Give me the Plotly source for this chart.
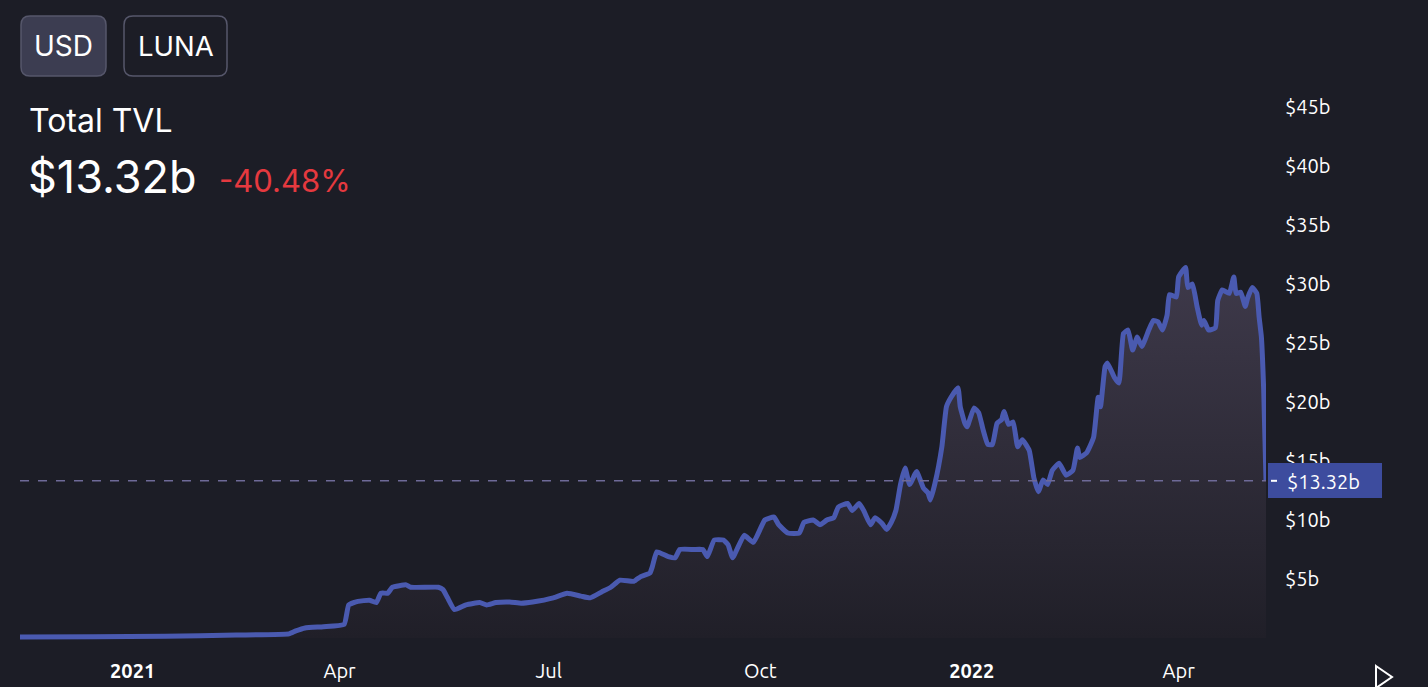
import plotly.graph_objects as go

# ---- data ----
dates = [
    "2020-11-13", "2020-12-15", "2021-01-15", "2021-02-15", "2021-03-10", "2021-03-13",
    "2021-03-17", "2021-03-25", "2021-04-03", "2021-04-05", "2021-04-09", "2021-04-14",
    "2021-04-17", "2021-04-19", "2021-04-22", "2021-04-24", "2021-04-30", "2021-05-02",
    "2021-05-14", "2021-05-16", "2021-05-18", "2021-05-21", "2021-05-26", "2021-06-01",
    "2021-06-04", "2021-06-08", "2021-06-14", "2021-06-19", "2021-06-24", "2021-07-03",
    "2021-07-09", "2021-07-15", "2021-07-19", "2021-07-24", "2021-07-28", "2021-08-01",
    "2021-08-07", "2021-08-10", "2021-08-14", "2021-08-15", "2021-08-17", "2021-08-22",
    "2021-08-25", "2021-08-27", "2021-09-02", "2021-09-06", "2021-09-08", "2021-09-11",
    "2021-09-15", "2021-09-17", "2021-09-19", "2021-09-24", "2021-09-28", "2021-10-03",
    "2021-10-07", "2021-10-09", "2021-10-13", "2021-10-18", "2021-10-20", "2021-10-24",
    "2021-10-27", "2021-10-30", "2021-11-02", "2021-11-04", "2021-11-08", "2021-11-10",
    "2021-11-13", "2021-11-15", "2021-11-18", "2021-11-20", "2021-11-23", "2021-11-25",
    "2021-11-27", "2021-11-29", "2021-12-01", "2021-12-03", "2021-12-05", "2021-12-08",
    "2021-12-11", "2021-12-13", "2021-12-14", "2021-12-16", "2021-12-19", "2021-12-21",
    "2021-12-23", "2021-12-26", "2021-12-27", "2021-12-29", "2021-12-30", "2022-01-02",
    "2022-01-04", "2022-01-06", "2022-01-08", "2022-01-10", "2022-01-12", "2022-01-14",
    "2022-01-15", "2022-01-17", "2022-01-19", "2022-01-21", "2022-01-23", "2022-01-26",
    "2022-01-28", "2022-01-30", "2022-02-01", "2022-02-03", "2022-02-05", "2022-02-08",
    "2022-02-11", "2022-02-14", "2022-02-16", "2022-02-17", "2022-02-20", "2022-02-23",
    "2022-02-25", "2022-02-26", "2022-02-28", "2022-03-01", "2022-03-04", "2022-03-06",
    "2022-03-08", "2022-03-10", "2022-03-12", "2022-03-14", "2022-03-16", "2022-03-19",
    "2022-03-21", "2022-03-23", "2022-03-25", "2022-03-27", "2022-03-28", "2022-03-31",
    "2022-04-01", "2022-04-04", "2022-04-05", "2022-04-07", "2022-04-09", "2022-04-11",
    "2022-04-12", "2022-04-14", "2022-04-17", "2022-04-18", "2022-04-20", "2022-04-23",
    "2022-04-25", "2022-04-26", "2022-04-28", "2022-04-30", "2022-05-01", "2022-05-03",
    "2022-05-05", "2022-05-06", "2022-05-07", "2022-05-08", "2022-05-09",
]
tvl_billions = [
    0.08, 0.10, 0.15, 0.25, 0.35, 0.60,
    0.85, 0.95, 1.15, 2.80, 3.10, 3.20,
    3.00, 3.80, 3.80, 4.30, 4.50, 4.30,
    4.30, 4.10, 3.40, 2.40, 2.80, 3.00,
    2.80, 3.00, 3.05, 2.95, 3.05, 3.40,
    3.80, 3.55, 3.40, 3.90, 4.30, 4.90,
    4.80, 5.20, 5.50, 6.00, 7.30, 6.90,
    6.80, 7.50, 7.50, 7.50, 6.90, 8.30,
    8.30, 7.90, 6.80, 8.70, 8.10, 10.00,
    10.25, 9.60, 8.90, 8.90, 9.80, 10.00,
    9.60, 10.00, 10.20, 11.10, 11.40, 10.80,
    11.40, 10.80, 9.60, 10.20, 9.70, 9.20,
    9.80, 10.80, 13.00, 14.40, 13.00, 14.10,
    12.70, 12.30, 11.70, 13.10, 16.20, 19.60,
    20.40, 21.20, 19.60, 18.20, 17.90, 19.50,
    19.10, 17.60, 16.40, 16.40, 18.20, 18.50,
    19.20, 18.10, 18.30, 16.20, 16.80, 15.90,
    13.60, 12.40, 13.40, 13.00, 14.20, 14.80,
    13.80, 14.20, 16.10, 15.30, 15.70, 17.00,
    20.40, 19.60, 23.00, 23.30, 22.10, 21.60,
    25.80, 26.10, 24.40, 25.50, 24.70, 26.10,
    26.90, 26.80, 26.10, 27.40, 29.10, 28.90,
    30.60, 31.40, 29.70, 30.00, 28.10, 26.50,
    26.90, 26.10, 26.30, 28.60, 29.50, 29.20,
    30.60, 29.20, 29.30, 28.10, 28.80, 29.70,
    29.20, 27.20, 25.50, 21.00, 13.32,
]
x_tick_vals = ["2021-01-01", "2021-04-01", "2021-07-01", "2021-10-01", "2022-01-01", "2022-04-01"]
x_tick_text = ["<b>2021</b>", "Apr", "Jul", "Oct", "<b>2022</b>", "Apr"]
y_tick_vals = [5, 10, 15, 20, 25, 30, 35, 40, 45]
y_tick_text = ["$5b", "$10b", "$15b", "$20b", "$25b", "$30b", "$35b", "$40b", "$45b"]
current_value = 13.32
current_label = "$13.32b"
change_label = "-40.48%"

# ---- layout geometry ----
W_FIG, H_FIG = 1428, 687
ML, MR, MT, MB = 20, 162, 80, 39
PW = W_FIG - ML - MR
PH = H_FIG - MT - MB
BG = "#1c1d26"
TICK_FONT = "Ubuntu, 'DejaVu Sans Condensed', 'Liberation Sans Narrow', 'Open Sans', sans-serif"
UI_FONT = "Inter, 'Noto Sans', sans-serif"


def X(px):
    return (px - ML) / PW


def Y(py):
    return (H_FIG - MB - py) / PH


def rrect(x0, y0, x1, y1, r):
    return (
        f"M {X(x0 + r)},{Y(y0)} L {X(x1 - r)},{Y(y0)} Q {X(x1)},{Y(y0)} {X(x1)},{Y(y0 + r)} "
        f"L {X(x1)},{Y(y1 - r)} Q {X(x1)},{Y(y1)} {X(x1 - r)},{Y(y1)} "
        f"L {X(x0 + r)},{Y(y1)} Q {X(x0)},{Y(y1)} {X(x0)},{Y(y1 - r)} "
        f"L {X(x0)},{Y(y0 + r)} Q {X(x0)},{Y(y0)} {X(x0 + r)},{Y(y0)} Z"
    )


fig = go.Figure()
fig.add_trace(
    go.Scatter(
        x=dates,
        y=tvl_billions,
        mode="lines",
        line=dict(color="#4a5ab0", width=5, shape="spline", smoothing=0.4),
        fill="tozeroy",
        fillgradient=dict(
            type="vertical",
            colorscale=[[0, "#201f28"], [1, "#3f3a4b"]],
            start=0,
            stop=32,
        ),
        hoverinfo="skip",
        showlegend=False,
    )
)

shapes = [
    dict(type="line", xref="paper", yref="y", x0=0, x1=1, y0=current_value, y1=current_value,
         line=dict(color="#6e6a98", width=1.5, dash="dash"), layer="above"),
    dict(type="rect", xref="paper", yref="paper", x0=X(1268), x1=X(1382), y0=Y(498), y1=Y(463),
         fillcolor="#3d4c9e", line=dict(width=0), layer="above"),
    dict(type="line", xref="paper", yref="y", x0=X(1271), x1=X(1277), y0=current_value, y1=current_value,
         line=dict(color="white", width=2), layer="above"),
    dict(type="path", xref="paper", yref="paper", path=rrect(21, 16, 106, 76, 9),
         fillcolor="#3c3d51", line=dict(color="#56576b", width=1.5), layer="above"),
    dict(type="path", xref="paper", yref="paper", path=rrect(124, 16, 227, 76, 9),
         fillcolor=BG, line=dict(color="#56576b", width=1.5), layer="above"),
    dict(type="path", xref="paper", yref="paper",
         path=f"M {X(1376)},{Y(666)} L {X(1392)},{Y(677)} L {X(1376)},{Y(688)} Z",
         line=dict(color="white", width=2), layer="above"),
]

annotations = [
    dict(text="USD", x=X(63.5), y=Y(46), font=dict(family=UI_FONT, size=28, color="white")),
    dict(text="LUNA", x=X(175.5), y=Y(46), font=dict(family=UI_FONT, size=27.5, color="white")),
    dict(text="Total TVL", x=X(27), y=Y(121), xanchor="left",
         font=dict(family=UI_FONT, size=32, color="white")),
    dict(text="$13.32b", x=X(26), y=Y(176), xanchor="left",
         font=dict(family=UI_FONT, size=45, color="white")),
    dict(text=change_label, x=X(217), y=Y(180), xanchor="left",
         font=dict(family=UI_FONT, size=31, color="#e5393f")),
    dict(text=current_label, x=X(1285), y=Y(481), xanchor="left",
         font=dict(family=TICK_FONT, size=20, color="white")),
]
for a in annotations:
    a.setdefault("xref", "paper")
    a.setdefault("yref", "paper")
    a.setdefault("xanchor", "center")
    a["yanchor"] = "middle"
    a["showarrow"] = False

fig.update_layout(
    width=W_FIG,
    height=H_FIG,
    margin=dict(l=ML, r=MR, t=MT, b=MB, autoexpand=False),
    paper_bgcolor=BG,
    plot_bgcolor=BG,
    shapes=shapes,
    annotations=annotations,
    xaxis=dict(
        range=["2020-11-13", "2022-05-09"],
        tickvals=x_tick_vals,
        ticktext=x_tick_text,
        showgrid=False,
        zeroline=False,
        showline=False,
        ticks="",
        automargin=False,
        tickfont=dict(family=TICK_FONT, size=20, color="white"),
        ticklabelstandoff=9,
    ),
    yaxis=dict(
        side="right",
        range=[-0.85, 47.29],
        tickvals=y_tick_vals,
        ticktext=y_tick_text,
        showgrid=False,
        zeroline=False,
        showline=False,
        ticks="",
        automargin=False,
        tickfont=dict(family=TICK_FONT, size=20, color="white"),
        ticklabelstandoff=18,
    ),
)

fig.write_html(
    "out.html",
    config={"displayModeBar": False},
    post_script="document.body.style.margin='0';document.body.style.background='#1c1d26';",
)
